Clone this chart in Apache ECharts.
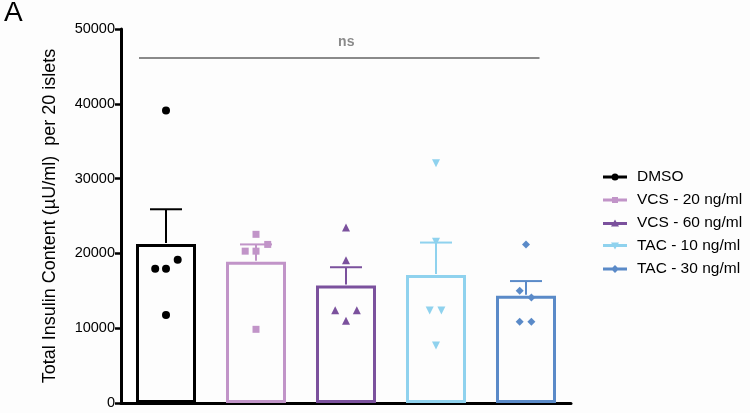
<!DOCTYPE html>
<html>
<head>
<meta charset="utf-8">
<script src="https://cdn.jsdelivr.net/npm/echarts@6/dist/echarts.min.js"></script>
<style>
  html, body { margin: 0; padding: 0; background: #fdfdfd; }
  #main { width: 750px; height: 413px; }
</style>
</head>
<body>
<div id="main"></div>
<script>
var app = echarts.init(document.getElementById('main'));

// groups, colours, means and upper SEM
var groups = ['DMSO', 'VCS - 20 ng/ml', 'VCS - 60 ng/ml', 'TAC - 10 ng/ml', 'TAC - 30 ng/ml'];
var colors = ['#000000', '#c194c8', '#7b519d', '#8fd2ee', '#5a8ac8'];
var means = [21250, 18900, 15700, 17100, 14350];
var errTop = [25900, 21200, 18150, 21450, 16300];

// individual points: [jitter within the group, value]
var ptsDMSO = [[0, 39100], [-0.12, 17950], [0, 17950], [0.13, 19150], [0, 11750]];
var ptsVCS20 = [[0, 22550], [0.13, 21200], [-0.12, 20300], [0, 20300], [0, 9850]];
var ptsVCS60 = [[0, 23450], [0, 19100], [-0.12, 12400], [0.12, 12400], [0, 11000]];
var ptsTAC10 = [[0, 32050], [0, 21550], [-0.07, 12350], [0.06, 12350], [0, 7700]];
var ptsTAC30 = [[0, 21200], [-0.07, 15000], [0.06, 14100], [-0.07, 10850], [0.06, 10850]];
var points = [ptsDMSO, ptsVCS20, ptsVCS60, ptsTAC10, ptsTAC30];

var symbols = ['circle', 'rect', 'triangle', 'triangle', 'diamond'];
var symRot = [0, 0, 0, 180, 0];
var symSize = [8, 7, 8, 8, 8];

var line = 'M0,3.5H24V6.5H0Z ';
var icons = [
  'path://' + line + 'M8.5,5a3.5,3.5 0 1,1 7,0a3.5,3.5 0 1,1 -7,0Z',
  'path://' + line + 'M9,2H15V8H9Z',
  'path://' + line + 'M12,1L16,8H8Z',
  'path://' + line + 'M8,2H16L12,9Z',
  'path://' + line + 'M12,1L16,5L12,9L8,5Z'
];

var font = '"Liberation Sans", Arial, sans-serif';

var scatterSeries = groups.map(function (g, i) {
  var s = {
    name: g,
    type: 'scatter',
    xAxisIndex: 1,
    data: points[i].map(function (p) { return [i + p[0], p[1]]; }),
    symbol: symbols[i],
    symbolRotate: symRot[i],
    symbolSize: symSize[i],
    itemStyle: { color: colors[i], opacity: 1 },
    z: 5
  };
  if (i === 0) {
    s.markLine = {
      silent: true,
      symbol: 'none',
      lineStyle: { color: '#8a8a8a', width: 2, type: 'solid' },
      label: {
        show: true, position: 'middle', formatter: 'ns',
        color: '#8a8a8a', fontWeight: 'bold', fontSize: 14, fontFamily: font, distance: 9,
        padding: [0, 0, 0, 14]
      },
      data: [[{ coord: [-0.3, 46100] }, { coord: [4.15, 46100] }]]
    };
  }
  return s;
});

option = {
  backgroundColor: '#fdfdfd',
  animation: false,
  title: {
    text: 'A', left: -1, top: -6,
    textStyle: { fontSize: 28, fontWeight: 'normal', color: '#000', fontFamily: font }
  },
  grid: { left: 121, right: 179, top: 29, bottom: 10 },
  legend: {
    orient: 'vertical',
    left: 598,
    top: 164,
    itemWidth: 24,
    itemHeight: 10,
    itemGap: 7,
    textStyle: { fontSize: 15.5, color: '#000', fontFamily: font, padding: [0, 0, 0, 5] },
    data: groups.map(function (g, i) { return { name: g, icon: icons[i] }; })
  },
  xAxis: [{
    type: 'category',
    data: groups,
    axisLine: { lineStyle: { color: '#000', width: 3 } },
    axisTick: { show: false },
    axisLabel: { show: false }
  }, {
    type: 'value',
    min: -0.5,
    max: 4.5,
    show: false
  }],
  yAxis: {
    type: 'value',
    min: 0,
    max: 50000,
    interval: 10000,
    name: 'Total Insulin Content (\u00b5U/ml)  per 20 islets',
    nameLocation: 'middle',
    nameGap: 62,
    nameTextStyle: { fontSize: 18, color: '#000', fontFamily: font },
    axisLine: { show: true, onZero: false, lineStyle: { color: '#000', width: 3 } },
    axisTick: { show: true, length: 6, lineStyle: { color: '#000', width: 2.5 } },
    axisLabel: { fontSize: 14.5, color: '#000', fontFamily: font, margin: 6, formatter: function (v) { return String(v); } },
    splitLine: { show: false }
  },
  series: [{
    name: 'mean',
    type: 'bar',
    barWidth: 60,
    data: means.map(function (m, i) {
      return {
        value: m,
        itemStyle: { color: 'rgba(0,0,0,0)', borderColor: colors[i], borderWidth: 3 }
      };
    }),
    z: 2
  }, {
    name: 'sem',
    type: 'custom',
    data: means.map(function (m, i) { return [i, m, errTop[i]]; }),
    renderItem: function (params, api) {
      var p0 = api.coord([api.value(0), api.value(1)]);
      var p1 = api.coord([api.value(0), api.value(2)]);
      var c = colors[params.dataIndex];
      return {
        type: 'group',
        children: [{
          type: 'line',
          shape: { x1: p0[0], y1: p0[1] - 1, x2: p1[0], y2: p1[1] },
          style: { stroke: c, lineWidth: 2 }
        }, {
          type: 'line',
          shape: { x1: p1[0] - 16, y1: p1[1], x2: p1[0] + 16, y2: p1[1] },
          style: { stroke: c, lineWidth: 2 }
        }]
      };
    },
    z: 3
  }].concat(scatterSeries)
};

app.setOption(option);
</script>
</body>
</html>
